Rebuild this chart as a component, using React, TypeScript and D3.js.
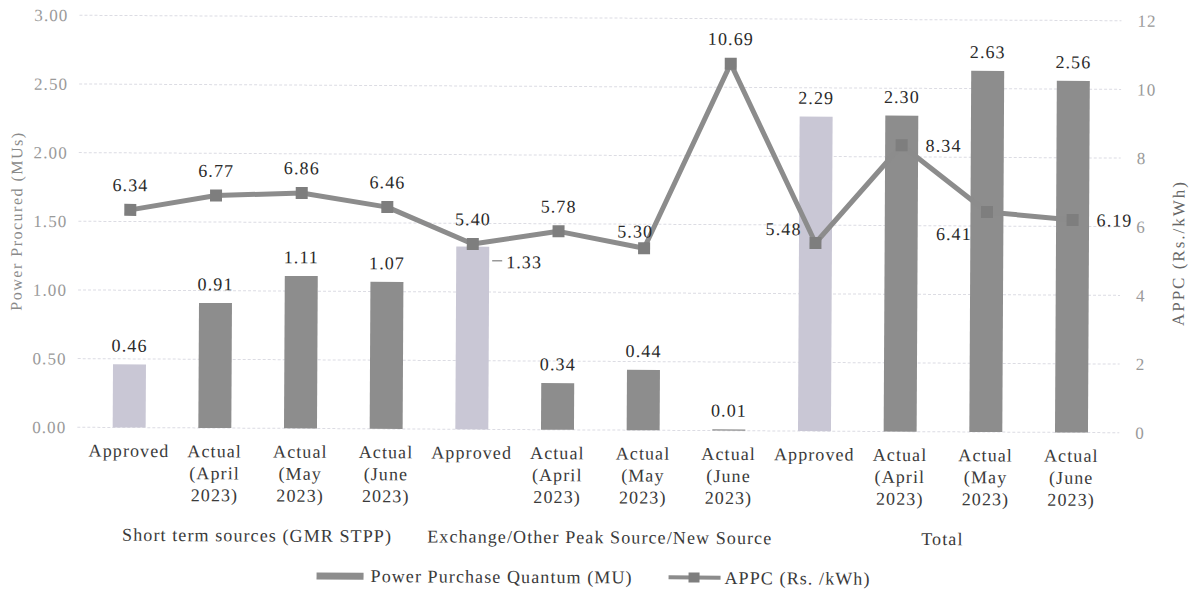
import React from "react";
import * as d3 from "d3";

const categoryLines: string[][] = [
  ["Approved"], ["Actual", "(April", "2023)"], ["Actual", "(May", "2023)"], ["Actual", "(June", "2023)"],
  ["Approved"], ["Actual", "(April", "2023)"], ["Actual", "(May", "2023)"], ["Actual", "(June", "2023)"],
  ["Approved"], ["Actual", "(April", "2023)"], ["Actual", "(May", "2023)"], ["Actual", "(June", "2023)"],
];
const groups = ["Short term sources (GMR STPP)", "Exchange/Other Peak Source/New Source", "Total"];
const groupSize = 4;
const quantum = [0.46, 0.91, 1.11, 1.07, 1.33, 0.34, 0.44, 0.01, 2.29, 2.30, 2.63, 2.56];
const appc = [6.34, 6.77, 6.86, 6.46, 5.40, 5.78, 5.30, 10.69, 5.48, 8.34, 6.41, 6.19];
const leftTicks = [0, 0.5, 1, 1.5, 2, 2.5, 3];
const rightTicks = [0, 2, 4, 6, 8, 10, 12];
// label placement hints (layout, not data)
const lineLabelPlace = ["above", "above", "above", "above", "above", "above", "upleft", "above", "left", "right", "belowleft", "right"];
const barLabelPlace = ["above", "above", "above", "above", "rightLeader", "above", "above", "above", "above", "above", "above", "above"];

const FONT = "'Liberation Serif', 'Times New Roman', serif";
const DARK = "#8d8d8d";
const LIGHT = "#c9c7d5";
const LINE = "#8c8c8c";

export default function App() {
  const W = 1189, H = 594;
  const left = 87, right = 1115, top = 18, bottom = 430;
  const idx = quantum.map((_, i) => i);
  const x = d3.scaleBand<number>().domain(idx).range([left, right]).paddingInner(0.615).paddingOuter(0.3075);
  const yL = d3.scaleLinear().domain([0, 3]).range([bottom, top]);
  const yR = d3.scaleLinear().domain([0, 12]).range([bottom, top]);
  const cx = (i: number) => (x(i) as number) + x.bandwidth() / 2;
  const line = d3.line<number>().x((_, i) => cx(i)).y((d) => yR(d));

  const textStyle: React.CSSProperties = { fontFamily: FONT, letterSpacing: "1.1px" };

  return (
    <svg width={W} height={H} style={{ position: "absolute", left: 0, top: 0, background: "#fff" }}>
      <g transform="rotate(0.3, 600, 300)">
        {/* gridlines */}
        {leftTicks.map((t) => (
          <line key={"g" + t} x1={78} x2={1120} y1={yL(t)} y2={yL(t)} stroke="#dcdce3" strokeWidth={1} strokeDasharray="3,2" />
        ))}
        {/* left tick labels */}
        {leftTicks.map((t) => (
          <text key={"lt" + t} x={67} y={yL(t)} dy="0.35em" textAnchor="end" fontSize={17} fill="#9a9a9a" style={textStyle}>
            {d3.format(".2f")(t)}
          </text>
        ))}
        {/* right tick labels */}
        {rightTicks.map((t) => (
          <text key={"rt" + t} x={1136} y={yR(t)} dy="0.35em" textAnchor="start" fontSize={17} fill="#9a9a9a" style={textStyle}>
            {t}
          </text>
        ))}
        {/* axis titles */}
        <text transform={`translate(16, 224) rotate(-90)`} textAnchor="middle" dy="0.35em" fontSize={16} fill="#8a8a8a" style={{ fontFamily: FONT, letterSpacing: "1.5px" }}>
          Power Procured (MUs)
        </text>
        <text transform={`translate(1178, 250) rotate(-90)`} textAnchor="middle" dy="0.35em" fontSize={17} fill="#666" style={{ fontFamily: FONT, letterSpacing: "2px" }}>
          APPC (Rs./kWh)
        </text>
        {/* bars */}
        {quantum.map((v, i) => (
          <rect key={"b" + i} x={x(i)} y={yL(v)} width={x.bandwidth()} height={bottom - yL(v)} fill={i % groupSize === 0 ? LIGHT : DARK} />
        ))}
        {/* line */}
        <path d={line(appc) || ""} fill="none" stroke={LINE} strokeWidth={5} strokeLinejoin="round" />
        {appc.map((v, i) => (
          <rect key={"m" + i} x={cx(i) - 6} y={yR(v) - 6} width={12} height={12} fill="#7e7e7e" />
        ))}
        {/* bar labels */}
        {quantum.map((v, i) => {
          const place = barLabelPlace[i];
          if (place === "rightLeader") {
            const bx = (x(i) as number) + x.bandwidth();
            const ly = yL(v) + 15;
            return (
              <g key={"bl" + i}>
                <line x1={bx + 3} x2={bx + 13} y1={ly - 1} y2={ly - 1} stroke="#999" strokeWidth={1.5} />
                <text x={bx + 17} y={ly} dy="0.35em" fontSize={18} fill="#2a2a2a" style={textStyle}>
                  {d3.format(".2f")(v)}
                </text>
              </g>
            );
          }
          return (
            <text key={"bl" + i} x={cx(i)} y={yL(v) - 19} dy="0.35em" textAnchor="middle" fontSize={18} fill="#2a2a2a" style={textStyle}>
              {d3.format(".2f")(v)}
            </text>
          );
        })}
        {/* line labels */}
        {appc.map((v, i) => {
          const place = lineLabelPlace[i];
          let tx = cx(i), ty = yR(v) - 25, anchor: "middle" | "start" | "end" = "middle";
          if (place === "upleft") { tx = cx(i) - 9; ty = yR(v) - 17; }
          if (place === "left") { tx = cx(i) - 14; ty = yR(v) - 14; anchor = "end"; }
          if (place === "right") { tx = cx(i) + 24; ty = yR(v); anchor = "start"; }
          if (place === "belowleft") { tx = cx(i) - 15; ty = yR(v) + 22; anchor = "end"; }
          return (
            <text key={"ll" + i} x={tx} y={ty} dy="0.35em" textAnchor={anchor} fontSize={18} fill="#2a2a2a" style={textStyle}>
              {d3.format(".2f")(v)}
            </text>
          );
        })}
        {/* category labels */}
        {categoryLines.map((lines, i) => (
          <text key={"c" + i} x={cx(i)} y={453} dy="0.35em" textAnchor="middle" fontSize={18} fill="#3a3a3a" style={textStyle}>
            {lines.map((l, j) => (
              <tspan key={j} x={cx(i)} y={453 + j * 22} dy="0.35em">{l}</tspan>
            ))}
          </text>
        ))}
        {/* group labels */}
        {groups.map((g, gi) => {
          const gx = (cx(gi * groupSize) + cx(gi * groupSize + groupSize - 1)) / 2;
          return (
            <text key={"grp" + gi} x={gx} y={537} dy="0.35em" textAnchor="middle" fontSize={18} fill="#3a3a3a" style={textStyle}>
              {g}
            </text>
          );
        })}
        {/* legend */}
        <g>
          <rect x={318} y={574} width={47} height={7} fill={DARK} />
          <text x={372} y={577} dy="0.35em" fontSize={18} fill="#3a3a3a" style={textStyle}>Power Purchase Quantum (MU)</text>
          <line x1={670} x2={722} y1={577} y2={577} stroke={LINE} strokeWidth={4} />
          <rect x={690} y={572} width={11} height={10} fill="#7e7e7e" />
          <text x={726} y={577} dy="0.35em" fontSize={18} fill="#3a3a3a" style={textStyle}>APPC (Rs. /kWh)</text>
        </g>
      </g>
    </svg>
  );
}
